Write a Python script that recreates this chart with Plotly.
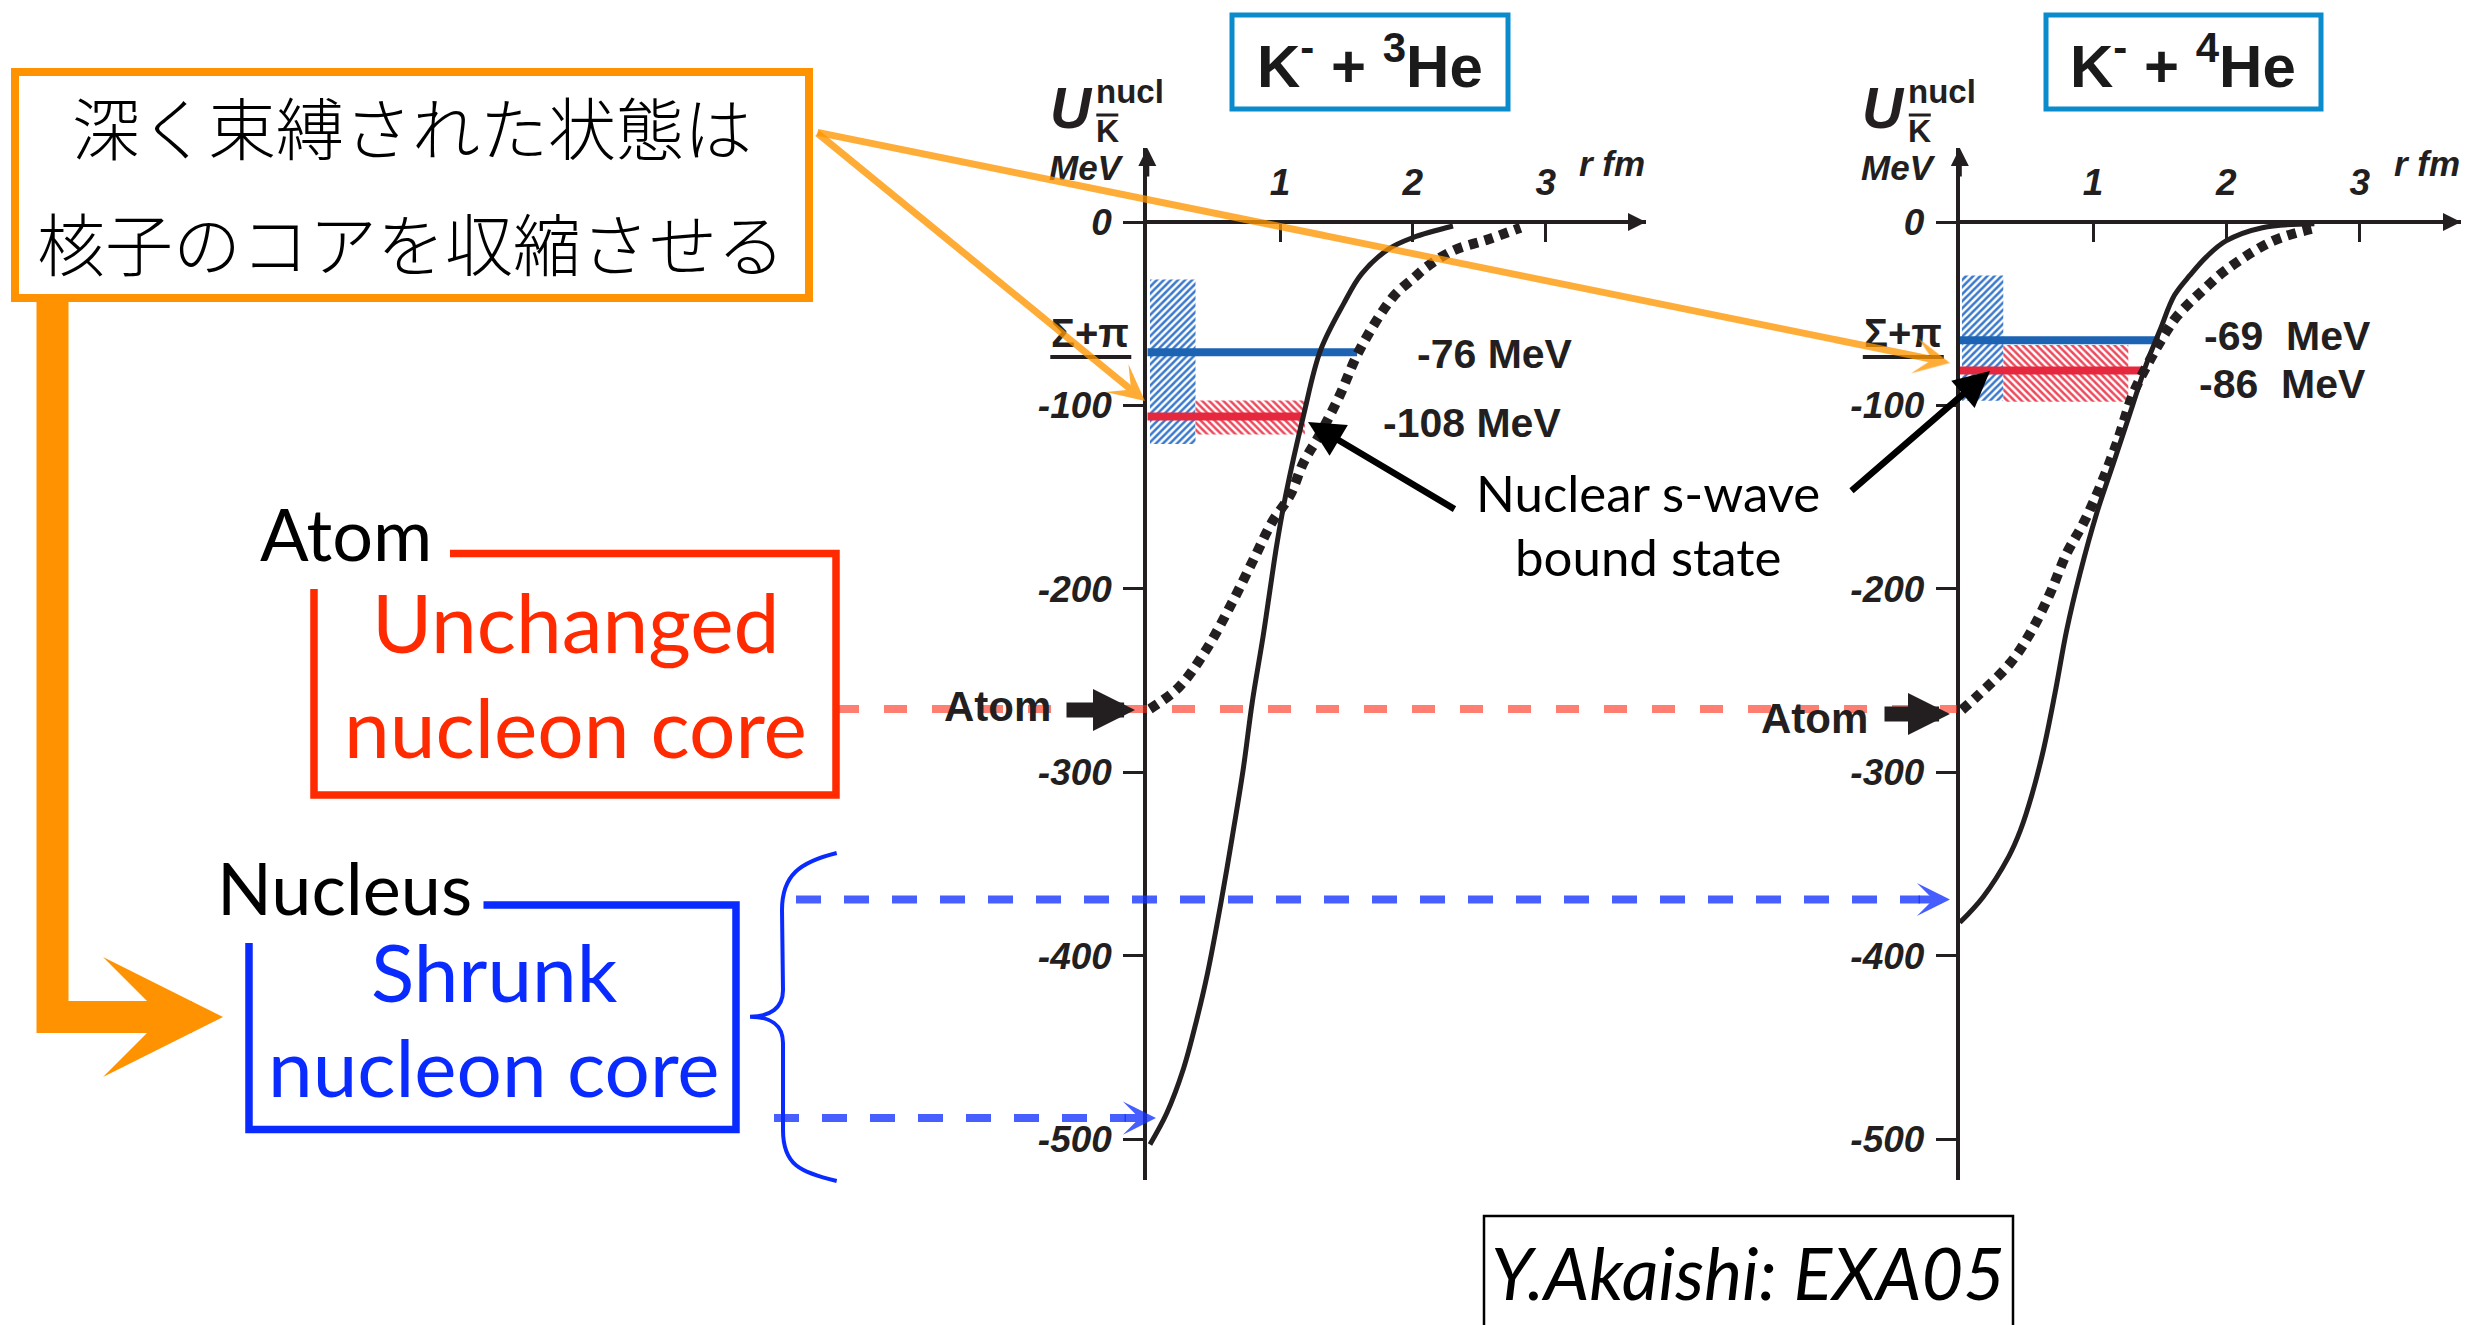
import plotly.graph_objects as go

W, H = 2481, 1325

# ---------------- data ----------------
# K- + 3He : r [fm] , U [MeV]
he3_r_solid = [0.02, 0.146, 0.271, 0.372, 0.454, 0.555, 0.638, 0.723, 0.79, 0.874, 0.975,
               1.042, 1.177, 1.304, 1.479, 1.614, 1.816, 2.0, 2.302]
he3_u_solid = [-503, -486, -462, -435, -409.5, -371, -336, -298, -262, -225, -176,
               -149, -105.3, -70.0, -44.5, -28.3, -14.8, -8.5, -2.2]
he3_r_dotted = [0.02, 0.236, 0.437, 0.638, 0.807, 0.94, 1.075, 1.177, 1.294, 1.446, 1.597,
                1.85, 2.015, 2.10, 2.30, 2.57, 2.81]
he3_u_dotted = [-265.5, -253.8, -234, -207.6, -183, -163.6, -149, -131, -116.5, -95, -70,
                -40.9, -30, -24.7, -15.7, -9.4, -3.1]

# K- + 4He
he4_r_solid = [0.0, 0.175, 0.367, 0.455, 0.542, 0.63, 0.714, 0.802, 0.902, 1.027, 1.152,
               1.277, 1.402, 1.502, 1.61, 1.727, 1.85, 1.997, 2.27, 2.66]
he4_u_solid = [-382, -368, -346, -331.6, -312, -287, -257, -222.5, -191.6, -158.8, -131.6,
               -104.3, -77, -58.9, -40, -29, -19, -10.3, -3.1, -1.0]
he4_r_dotted = [0.016, 0.127, 0.377, 0.527, 0.677, 0.802, 0.927, 1.052, 1.177, 1.302, 1.427,
                1.527, 1.627, 1.852, 2.0, 2.35, 2.68]
he4_u_dotted = [-266, -258.8, -240.6, -224.3, -202.5, -180.6, -164.3, -144.3, -120.7, -93.4, -75.2,
                -62.5, -51.6, -35.3, -26, -10.3, -3.1]

# bound-state levels as drawn: [level U, r where the bar ends]
he3_levels = [-71, -106]
he3_level_rmax = [1.58, 1.18]
he3_level_labels = ["-76 MeV", "-108 MeV"]
he4_levels = [-64.5, -81]
he4_level_rmax = [1.50, 1.375]
he4_level_labels = ["-69\u00a0\u00a0MeV", "-86\u00a0\u00a0MeV"]

# hatched widths: r0, r1, U_low, U_high
he3_sigpi_band = [0.02, 0.363, -121, -31.3]
he3_width_band = [0.363, 1.187, -115.8, -97.3]
he4_sigpi_band = [0.016, 0.326, -97.5, -29.2]
he4_width_band = [0.326, 1.264, -98, -67]

sigma_pi_threshold = -73.6
atom_level = -265.5
core_arrow_levels = [-369.4, -488.6]

x_ticks = [1, 2, 3]
x_tick_labels = ["1", "2", "3"]
y_ticks = [0, -100, -200, -300, -400, -500]
y_tick_labels = ["0", "-100", "-200", "-300", "-400", "-500"]

# ---------------- geometry helpers ----------------
def px(x):
    return x / W

def py(y):
    return 1 - y / H

Y0, SY = 222.0, 1.834          # pixel of U=0, pixels per MeV
Y_TOP, Y_BOT = 148.0, 1180.0
yrange = [-(Y_BOT - Y0) / SY, (Y0 - Y_TOP) / SY]
XL0, SXL, XL1 = 1147.3, 132.8, 1646.0
XR0, SXR, XR1 = 1959.8, 133.3, 2461.0

INK = "#231F20"
TXT = "Liberation Sans"
GILL = "Lato"

fig = go.Figure()

# ---------------- hatched bands ----------------
def band(b, xa, ya, shape, color):
    fig.add_trace(go.Bar(
        x=[(b[0] + b[1]) / 2], width=[b[1] - b[0]], base=[b[2]], y=[b[3] - b[2]],
        xaxis=xa, yaxis=ya,
        marker=dict(color="white", line=dict(width=0),
                    pattern=dict(shape=shape, fgcolor=color, bgcolor="white",
                                 size=5, solidity=0.5, fillmode="replace")),
        hoverinfo="skip"))

band(he3_sigpi_band, "x", "y", "/", "#3A78CC")
band(he3_width_band, "x", "y", "\\", "#EC4A5C")
band(he4_sigpi_band, "x2", "y2", "/", "#3A78CC")
band(he4_width_band, "x2", "y2", "\\", "#EC4A5C")

# ---------------- level lines ----------------
lvl_colors = ["#1C63B3", "#E6283F"]
for lv, rm, c in zip(he3_levels, he3_level_rmax, lvl_colors):
    fig.add_trace(go.Scatter(x=[0, rm], y=[lv, lv], mode="lines", xaxis="x", yaxis="y",
                             line=dict(color=c, width=8), hoverinfo="skip"))
for lv, rm, c in zip(he4_levels, he4_level_rmax, lvl_colors):
    fig.add_trace(go.Scatter(x=[0, rm], y=[lv, lv], mode="lines", xaxis="x2", yaxis="y2",
                             line=dict(color=c, width=8), hoverinfo="skip"))

# ---------------- potential curves ----------------
def curve(r, u, xa, ya, dotted):
    fig.add_trace(go.Scatter(
        x=r, y=u, mode="lines", xaxis=xa, yaxis=ya, hoverinfo="skip",
        line=dict(color=INK, width=10 if dotted else 5, shape="spline", smoothing=1.0,
                  dash="9px,7px" if dotted else "solid")))

curve(he3_r_solid, he3_u_solid, "x", "y", False)
curve(he3_r_dotted, he3_u_dotted, "x", "y", True)
curve(he4_r_solid, he4_u_solid, "x2", "y2", False)
curve(he4_r_dotted, he4_u_dotted, "x2", "y2", True)

# ---------------- axes ----------------
tickfont = dict(family=TXT, size=37, color=INK, weight="bold", style="italic")
xcommon = dict(anchor="free", position=py(Y0), side="top", showline=True, linewidth=4,
               linecolor=INK, ticks="inside", ticklen=18, tickwidth=3, tickcolor=INK,
               tickvals=x_ticks, ticktext=x_tick_labels, tickfont=tickfont,
               showgrid=False, zeroline=False, ticklabelstandoff=10, fixedrange=True)
ycommon = dict(domain=[py(Y_BOT), py(Y_TOP)], range=yrange, showline=True, linewidth=4,
               linecolor=INK, ticks="outside", ticklen=20, tickwidth=3, tickcolor=INK,
               tickvals=y_ticks, ticktext=y_tick_labels, tickfont=tickfont,
               showgrid=False, zeroline=False, ticklabelstandoff=4, fixedrange=True)

fig.update_layout(
    xaxis=dict(domain=[px(XL0), px(XL1)], range=[0, (XL1 - XL0) / SXL], **xcommon),
    yaxis=dict(anchor="x", **ycommon),
    xaxis2=dict(domain=[px(XR0), px(XR1)], range=[0, (XR1 - XR0) / SXR], **xcommon),
    yaxis2=dict(anchor="x2", **ycommon),
)

ann = []
shapes = []

def text(x, y, s, size, color="black", family=TXT, weight="normal", style="normal",
         xanchor="center"):
    ann.append(dict(x=px(x), y=py(y), xref="paper", yref="paper", text=s, showarrow=False,
                    xanchor=xanchor, yanchor="middle",
                    font=dict(size=size, color=color, family=family, weight=weight, style=style)))

def arrow(xt, yt, xh, yh, color, width, head, size):
    ann.append(dict(x=px(xh), y=py(yh), xref="paper", yref="paper", ax=xt - xh, ay=yt - yh,
                    axref="pixel", ayref="pixel", text="", showarrow=True, arrowhead=head,
                    arrowsize=size, arrowwidth=width, arrowcolor=color, standoff=0))

def path(points, color, width, closed=False):
    d = "M " + " L ".join(f"{px(x):.5f},{py(y):.5f}" for x, y in points)
    if closed:
        d += " Z"
    shapes.append(dict(type="path", path=d, xref="paper", yref="paper",
                       line=dict(color=color, width=width)))

def rect(x0, y0, x1, y1, color, width):
    shapes.append(dict(type="rect", x0=px(x0), x1=px(x1), y0=py(y1), y1=py(y0),
                       xref="paper", yref="paper", line=dict(color=color, width=width)))

# axis arrow heads
for xa, ya, xr in (("x", "y", (XL1 - XL0) / SXL), ("x2", "y2", (XR1 - XR0) / SXR)):
    ann.append(dict(x=xr, y=0, xref=xa, yref=ya, ax=-30, ay=0, text="", showarrow=True,
                    arrowhead=2, arrowsize=0.9, arrowwidth=4, arrowcolor=INK, standoff=0))
    ann.append(dict(x=0, y=yrange[1], xref=xa, yref=ya, ax=0, ay=30, text="", showarrow=True,
                    arrowhead=2, arrowsize=0.9, arrowwidth=4, arrowcolor=INK, standoff=0))

# axis titles
for x0 in (XL0, XR0):
    text(x0 - 76, 108, "U", 57, INK, TXT, "bold", "italic")
    text(x0 - 17.5, 92, "nucl", 33, INK, TXT, "bold")
    text(x0 - 40, 131, "K", 32, INK, TXT, "bold")
    shapes.append(dict(type="line", xref="paper", yref="paper", x0=px(x0 - 51), x1=px(x0 - 29),
                       y0=py(115), y1=py(115), line=dict(color=INK, width=3)))
    text(x0 - 61, 167, "MeV", 35, INK, TXT, "bold", "italic")
    text(x0 - 57, 333, "Σ+π", 40, INK, TXT, "bold")
    shapes.append(dict(type="line", xref="paper", yref="y", x0=px(x0 - 97), x1=px(x0 - 16),
                       y0=sigma_pi_threshold, y1=sigma_pi_threshold,
                       line=dict(color=INK, width=4)))
text(1612, 163, "r fm", 35, INK, TXT, "bold", "italic")
text(2427, 163, "r fm", 35, INK, TXT, "bold", "italic")

# headers
rect(1232, 15, 1508, 109, "#0A8BCB", 5)
rect(2046, 15, 2321, 109, "#0A8BCB", 5)
text(1370, 62, "K<sup>-</sup> + <sup>3</sup>He", 60, "#1a1a1a", TXT, "bold")
text(2183, 62, "K<sup>-</sup> + <sup>4</sup>He", 60, "#1a1a1a", TXT, "bold")

# level labels
text(1495, 354, he3_level_labels[0], 41, INK, TXT, "bold")
text(1472, 423, he3_level_labels[1], 41, INK, TXT, "bold")
text(2287, 336, he4_level_labels[0], 41, INK, TXT, "bold")
text(2282, 384, he4_level_labels[1], 41, INK, TXT, "bold")

# Atom level dashed line and labels
shapes.append(dict(type="line", xref="paper", yref="y", x0=px(836), x1=px(1957),
                   y0=atom_level, y1=atom_level,
                   line=dict(color="rgba(255,40,20,0.6)", width=8, dash="23px,25px")))
text(997, 706, "Atom", 42, INK, TXT, "bold")
text(1814, 718, "Atom", 42, INK, TXT, "bold")
arrow(1065, 710, 1135, 710, INK, 15, 2, 0.56)
arrow(1883, 714, 1950, 714, INK, 15, 2, 0.56)

# shrunk-core dashed arrows
blue_d = "rgba(20,50,255,0.78)"
shapes.append(dict(type="line", xref="paper", yref="y", x0=px(796), x1=px(1920),
                   y0=core_arrow_levels[0], y1=core_arrow_levels[0],
                   line=dict(color=blue_d, width=8, dash="25px,23px")))
shapes.append(dict(type="line", xref="paper", yref="y", x0=px(774), x1=px(1126),
                   y0=core_arrow_levels[1], y1=core_arrow_levels[1],
                   line=dict(color=blue_d, width=8, dash="25px,23px")))
ann.append(dict(x=px(1950), y=core_arrow_levels[0], xref="paper", yref="y", ax=-33, ay=0,
                text="", showarrow=True, arrowhead=3, arrowsize=0.69, arrowwidth=8,
                arrowcolor=blue_d, standoff=0))
ann.append(dict(x=px(1156), y=core_arrow_levels[1], xref="paper", yref="y", ax=-33, ay=0,
                text="", showarrow=True, arrowhead=3, arrowsize=0.69, arrowwidth=8,
                arrowcolor=blue_d, standoff=0))

# Nuclear s-wave bound state
text(1648, 492, "Nuclear s-wave", 51, "black", GILL)
text(1648, 556, "bound state", 51, "black", GILL)
arrow(1456, 510, 1308, 422, "black", 6.5, 2, 1.1)
arrow(1850, 492, 1990, 371, "black", 6.5, 2, 1.1)

# Japanese callout
rect(15, 72, 809, 298, "#FF9200", 8)
text(412, 126, "深く束縛された状態は", 68, "black", "Noto Sans CJK JP", 300)
text(411, 241, "核子のコアを収縮させる", 68, "black", "Noto Sans CJK JP", 300)
orange_t = "rgba(255,150,0,0.78)"
arrow(816, 132, 1145, 401, orange_t, 7, 3, 0.86)
arrow(816, 132, 1950, 363, orange_t, 7, 3, 0.86)
path([(52.5, 298), (52.5, 1017), (140, 1017)], "#FF9200", 32)
arrow(110, 1017, 223, 1017, "#FF9200", 32, 3, 0.625)

# Atom / Unchanged nucleon core
text(346, 533, "Atom", 72, "black", GILL)
path([(450, 553.5), (836, 553.5), (836, 795), (314, 795), (314, 589)], "#FF2A00", 7.5)
text(575, 621, "Unchanged", 82, "#FF2A00", GILL)
text(575, 726, "nucleon core", 82, "#FF2A00", GILL)

# Nucleus / Shrunk nucleon core
text(344, 887, "Nucleus", 72, "black", GILL)
path([(483.5, 905), (736, 905), (736, 1129.5), (249, 1129.5), (249, 943)], "#0A2BFF", 7.5)
text(494, 971, "Shrunk", 80, "#0A2BFF", GILL)
text(494, 1066, "nucleon core", 80, "#0A2BFF", GILL)

# curly brace
def pt(x, y):
    return f"{px(x):.5f},{py(y):.5f}"
brace = ("M " + pt(836.7, 853) + " C " + pt(800, 862) + " " + pt(782, 875) + " " + pt(782, 910)
         + " L " + pt(783, 990) + " C " + pt(783, 1008) + " " + pt(770, 1016.7) + " " + pt(750, 1016.7)
         + " C " + pt(770, 1016.7) + " " + pt(783, 1025) + " " + pt(783, 1043)
         + " L " + pt(783, 1130) + " C " + pt(783, 1165) + " " + pt(800, 1172) + " " + pt(836.7, 1181))
shapes.append(dict(type="path", path=brace, xref="paper", yref="paper",
                   line=dict(color="#0A2BFF", width=4)))

# citation
rect(1484, 1216, 2013, 1345, "black", 2.5)
text(1748, 1272, "Y.Akaishi: EXA05", 72, "black", "Liberation Sans Narrow, Lato", "normal", "italic")

fig.update_layout(
    width=W, height=H, margin=dict(l=0, r=0, t=0, b=0),
    paper_bgcolor="white", plot_bgcolor="rgba(0,0,0,0)",
    showlegend=False, barmode="overlay",
    annotations=ann, shapes=shapes,
)

fig.write_html("out.html", config={"displayModeBar": False},
               post_script="document.body.style.margin='0px';")
